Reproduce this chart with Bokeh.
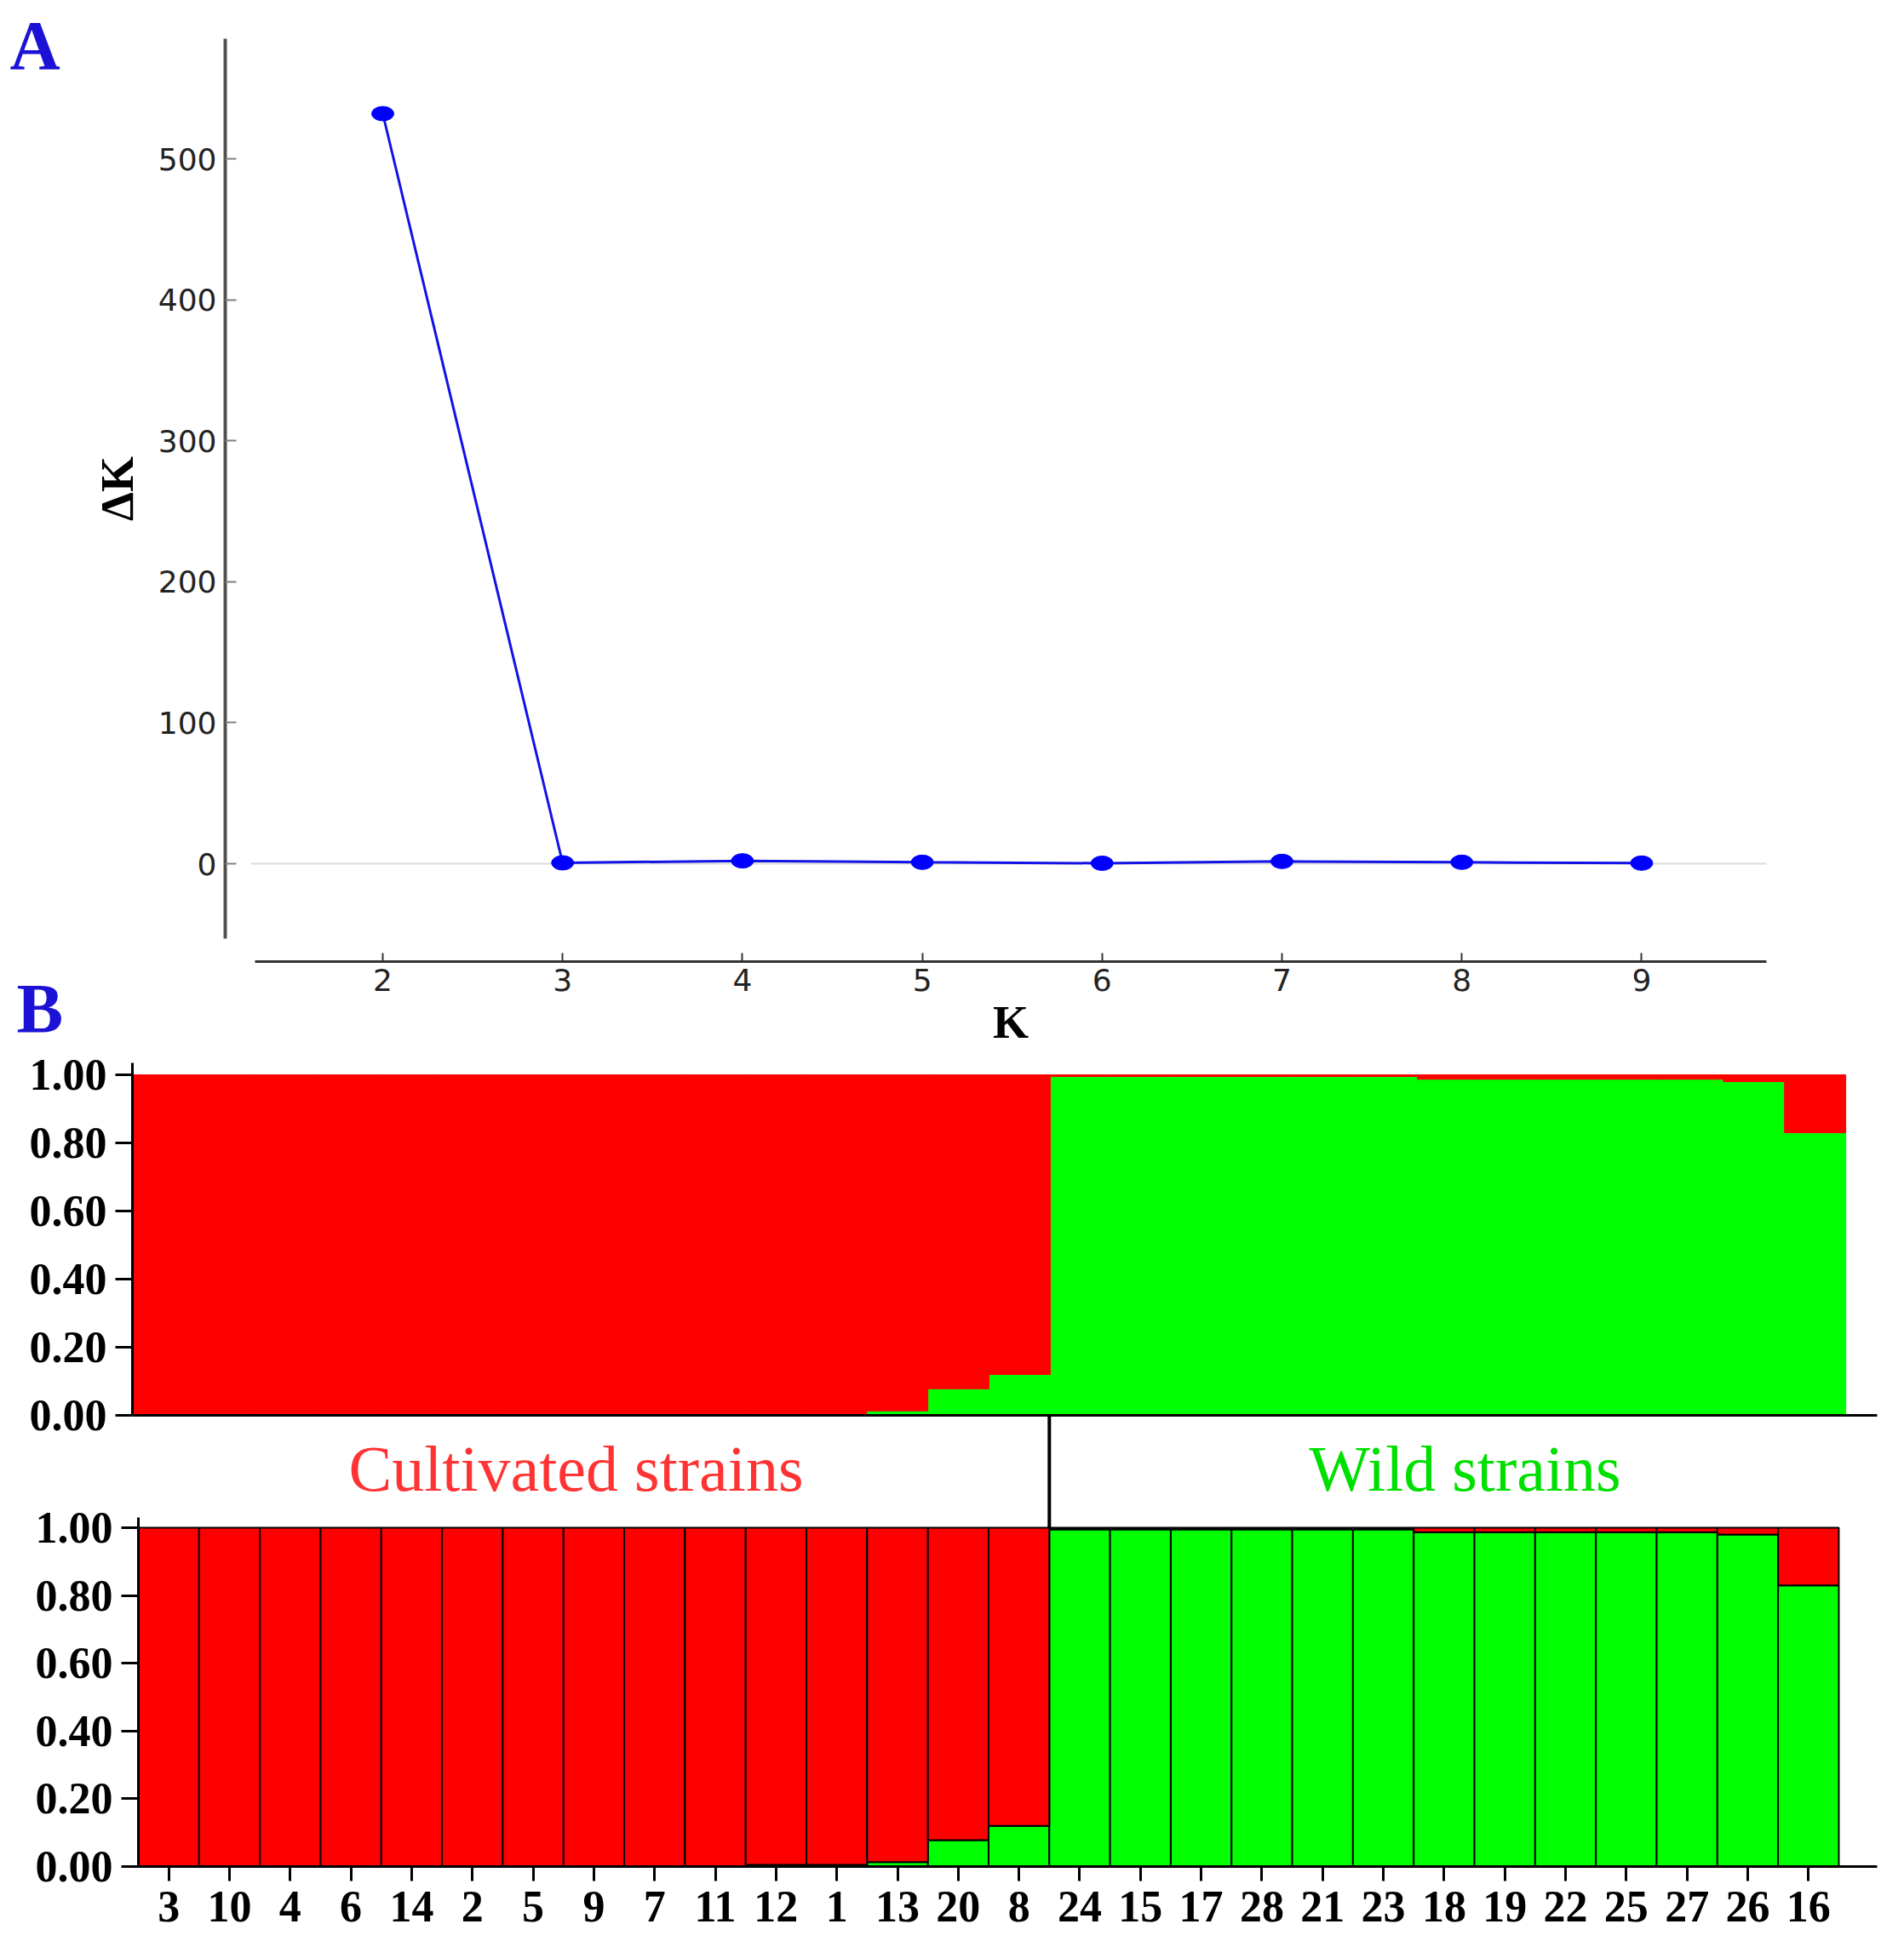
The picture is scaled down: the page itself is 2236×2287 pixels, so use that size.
from bokeh.plotting import figure
from bokeh.models import FixedTicker, Range1d, NumeralTickFormatter, LinearAxis
from bokeh.embed import file_html
from bokeh.resources import INLINE
from bokeh.core.properties import value

# ---------------- data ----------------
K_values = [2, 3, 4, 5, 6, 7, 8, 9]
delta_K = [532.0, 0.6, 2.0, 1.0, 0.3, 1.6, 1.0, 0.4]
A_y_ticks = [0, 100, 200, 300, 400, 500]

strains = ["3", "10", "4", "6", "14", "2", "5", "9", "7", "11", "12", "1", "13", "20", "8",
           "24", "15", "17", "28", "21", "23", "18", "19", "22", "25", "27", "26", "16"]
wild_fraction = [0.0, 0.0, 0.0, 0.0, 0.0, 0.0, 0.0, 0.0, 0.0, 0.0,
                 0.005, 0.005, 0.013, 0.078, 0.12,
                 0.995, 0.995, 0.995, 0.995, 0.995, 0.995,
                 0.987, 0.987, 0.987, 0.987, 0.987, 0.98, 0.83]
B_y_ticks = [0.0, 0.2, 0.4, 0.6, 0.8, 1.0]
group_labels = ["Cultivated strains", "Wild strains"]
group_colors = ["#ff3333", "#00e000"]
panel_letters = ["A", "B"]
n_cultivated = 15

RED = "#ff0000"
GREEN = "#00ff00"
BLUE_LABEL = "#1c12d6"
SERIF = "Liberation Serif"

positions = list(range(len(strains)))
ones = [1.0] * len(strains)

# ---------------- page geometry (page pixels) ----------------
PAGE_L, PAGE_R, PAGE_T, PAGE_B = 8, 2228, 8, 2279


class Lin:
    """page pixel -> data value for one scale."""
    def __init__(self, px_a, val_a, px_per_unit, sign=1):
        self.px_a, self.val_a, self.k, self.s = px_a, val_a, px_per_unit, sign

    def __call__(self, px):
        return self.val_a + self.s * (px - self.px_a) / self.k

    def rng(self, p0, p1):
        a, b = self(p0), self(p1)
        return Range1d(min(a, b), max(a, b))


ax_x = Lin(457, 2, 211.2)          # panel A: K = 2 at x=457
ax_y = Lin(1022, 0, 1.656, -1)     # panel A: dK = 0 at y=1022
b1x = Lin(163, -0.5, 71.86)        # panel B upper bars
b1y = Lin(1670, 0, 400, -1)
b2x = Lin(170, -0.5, 71.32)        # panel B lower bars
b2y = Lin(2200, 0, 398, -1)

p = figure(frame_width=PAGE_R - PAGE_L, frame_height=PAGE_B - PAGE_T,
           min_border_left=0, min_border_right=0, min_border_top=0, min_border_bottom=0,
           x_range=ax_x.rng(PAGE_L, PAGE_R), y_range=ax_y.rng(PAGE_B, PAGE_T),
           output_backend="svg", toolbar_location=None)
p.extra_x_ranges = {"B1": b1x.rng(PAGE_L, PAGE_R), "B2": b2x.rng(PAGE_L, PAGE_R)}
p.extra_y_ranges = {"B1": b1y.rng(PAGE_B, PAGE_T), "B2": b2y.rng(PAGE_B, PAGE_T)}
p.outline_line_color = None
p.grid.visible = False

# ---------------- panel A ----------------
x_bounds_A = (ax_x(307), ax_x(2082))
p.segment(x0=[ax_x(302)], y0=[0], x1=[x_bounds_A[1]], y1=[0],
          line_color="#dcdcdc", line_width=2)
p.line(K_values, delta_K, line_color="#1212e6", line_width=3)
p.ellipse(x=K_values, y=delta_K, width=26, height=17,
          width_units="screen", height_units="screen",
          fill_color="#0000ff", line_color="#0000ff")

xa = p.xaxis[0]
xa.fixed_location = ax_y(1137)
xa.ticker = FixedTicker(ticks=K_values)
xa.bounds = x_bounds_A
xa.axis_line_color = "#333333"
xa.axis_line_width = 3
xa.major_tick_in = 10
xa.major_tick_out = 0
xa.major_tick_line_color = "#333333"
xa.major_tick_line_width = 2
xa.minor_tick_line_color = None
xa.major_label_text_font = "DejaVu Sans"
xa.major_label_text_font_size = "36px"
xa.major_label_text_color = "#222222"
xa.major_label_standoff = 8
xa.axis_label = "K"
xa.axis_label_text_font = SERIF
xa.axis_label_text_font_style = "bold"
xa.axis_label_text_font_size = "54px"
xa.axis_label_text_color = "black"
xa.axis_label_standoff = 4

ya = p.yaxis[0]
ya.fixed_location = ax_x(272)
ya.ticker = FixedTicker(ticks=A_y_ticks)
ya.bounds = (ax_y(1110), ax_y(53))
ya.axis_line_color = "#505050"
ya.axis_line_width = 4
ya.major_tick_in = 13
ya.major_tick_out = 0
ya.major_tick_line_color = "#808080"
ya.major_tick_line_width = 2
ya.minor_tick_line_color = None
ya.major_label_text_font = "DejaVu Sans"
ya.major_label_text_font_size = "36px"
ya.major_label_text_color = "#222222"
ya.major_label_standoff = 10
ya.axis_label = "\u0394K"
ya.axis_label_text_font = SERIF
ya.axis_label_text_font_style = "bold"
ya.axis_label_text_font_size = "54px"
ya.axis_label_text_color = "black"
ya.axis_label_standoff = 15

# panel letters
p.text(x=[ax_x(19), ax_x(27)], y=[ax_y(61), ax_y(1192)], text=panel_letters,
       text_color=BLUE_LABEL, text_font=value(SERIF), text_font_style="bold",
       text_font_size=value("82px"), text_align="left", text_baseline="alphabetic")


def style_bar_yaxis(ax, bounds):
    ax.ticker = FixedTicker(ticks=B_y_ticks)
    ax.formatter = NumeralTickFormatter(format="0.00")
    ax.bounds = bounds
    ax.axis_line_color = "black"
    ax.axis_line_width = 3
    ax.major_tick_out = 20
    ax.major_tick_in = 0
    ax.major_tick_line_color = "black"
    ax.major_tick_line_width = 3
    ax.minor_tick_line_color = None
    ax.major_label_text_font = SERIF
    ax.major_label_text_font_style = "bold"
    ax.major_label_text_font_size = "52px"
    ax.major_label_text_color = "black"
    ax.major_label_standoff = 10


# ---------------- panel B, upper (plain) ----------------
p.vbar(x=positions, width=1, bottom=0, top=wild_fraction,
       fill_color=GREEN, line_color=GREEN, line_width=1,
       x_range_name="B1", y_range_name="B1")
p.vbar(x=positions, width=1, bottom=wild_fraction, top=ones,
       fill_color=RED, line_color=RED, line_width=1,
       x_range_name="B1", y_range_name="B1")

yb1 = LinearAxis(x_range_name="B1", y_range_name="B1", fixed_location=-0.5)
style_bar_yaxis(yb1, (0, b1y(1256)))
p.add_layout(yb1, "left")

xb1 = LinearAxis(x_range_name="B1", y_range_name="B1", fixed_location=0)
xb1.ticker = FixedTicker(ticks=[])
xb1.bounds = (-0.5, b1x(2212))
xb1.axis_line_color = "black"
xb1.axis_line_width = 3
xb1.major_tick_in = 0
xb1.major_tick_out = 0
xb1.minor_tick_line_color = None
p.add_layout(xb1, "below")

# ---------------- panel B, lower (outlined, labelled) ----------------
p.vbar(x=positions, width=1, bottom=0, top=wild_fraction,
       fill_color=GREEN, line_color="black", line_width=2,
       x_range_name="B2", y_range_name="B2")
p.vbar(x=positions, width=1, bottom=wild_fraction, top=ones,
       fill_color=RED, line_color="black", line_width=2,
       x_range_name="B2", y_range_name="B2")
# connector between the two bar panels, at the cultivated / wild boundary
p.segment(x0=[n_cultivated - 0.5], y0=[1.0], x1=[n_cultivated - 0.5], y1=[b2y(1670)],
          line_color="black", line_width=4, x_range_name="B2", y_range_name="B2")
p.text(x=[b2x(684), b2x(1728)], y=[b2y(1732), b2y(1732)], text=group_labels,
       text_color=group_colors, text_font=value(SERIF), text_font_size=value("76px"),
       text_align="center", text_baseline="alphabetic",
       x_range_name="B2", y_range_name="B2")

yb2 = LinearAxis(x_range_name="B2", y_range_name="B2", fixed_location=-0.5)
style_bar_yaxis(yb2, (0, b2y(1790)))
p.add_layout(yb2, "left")

xb2 = LinearAxis(x_range_name="B2", y_range_name="B2", fixed_location=0)
xb2.ticker = FixedTicker(ticks=positions)
xb2.major_label_overrides = {i: s for i, s in zip(positions, strains)}
xb2.bounds = (-0.5, b2x(2212))
xb2.axis_line_color = "black"
xb2.axis_line_width = 3
xb2.major_tick_out = 17
xb2.major_tick_in = 0
xb2.major_tick_line_color = "black"
xb2.major_tick_line_width = 3
xb2.minor_tick_line_color = None
xb2.major_label_text_font = SERIF
xb2.major_label_text_font_style = "bold"
xb2.major_label_text_font_size = "52px"
xb2.major_label_text_color = "black"
xb2.major_label_standoff = 12
p.add_layout(xb2, "below")

open("out.html", "w").write(file_html(p, INLINE))
